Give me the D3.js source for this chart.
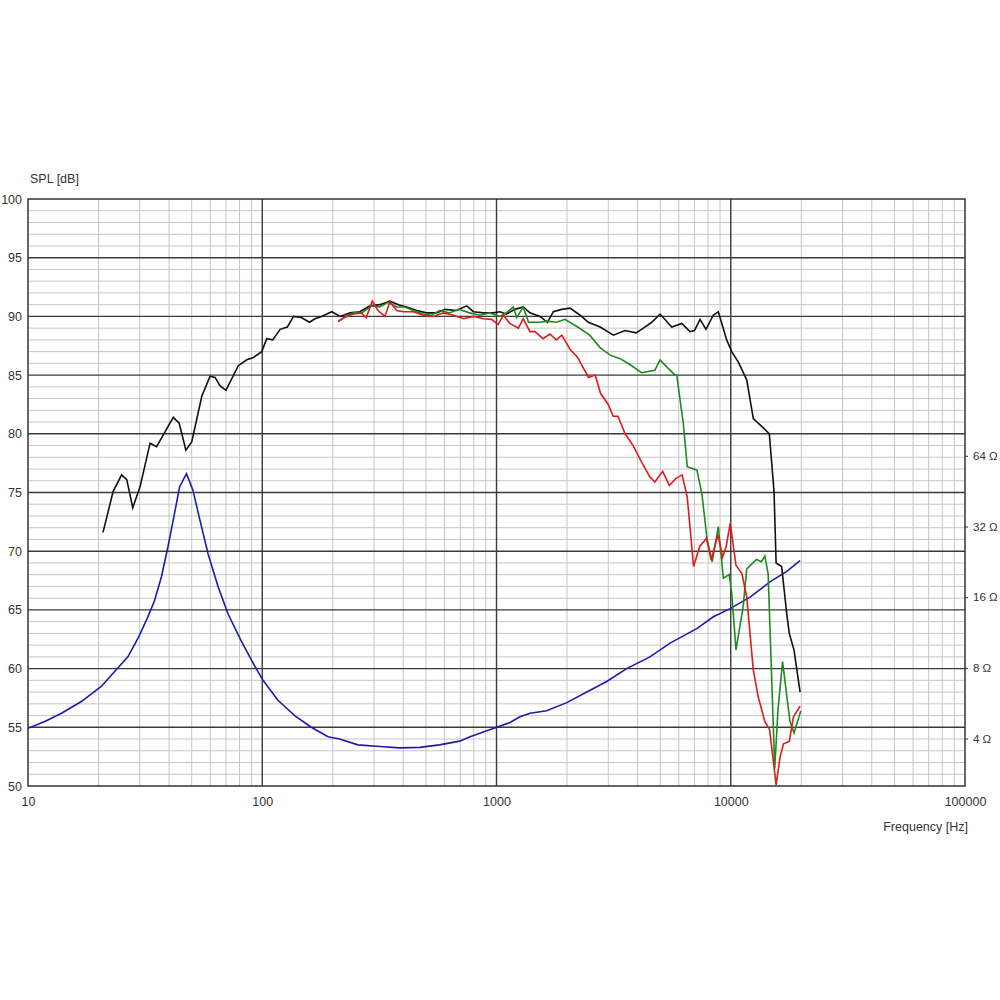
<!DOCTYPE html>
<html>
<head>
<meta charset="utf-8">
<script src="https://cdn.jsdelivr.net/npm/d3@7"></script>
<style>
  html, body { margin: 0; padding: 0; background: #fff; }
  svg text { font-family: "Liberation Sans", Arial, sans-serif; }
</style>
</head>
<body>
<svg id="chart" width="1000" height="1000"></svg>
<script>
// ---------- DATA ----------
const freqTicks = [10, 100, 1000, 10000, 100000];
const dbTicks = [50, 55, 60, 65, 70, 75, 80, 85, 90, 95, 100];
const ohmTicks = [4, 8, 16, 32, 64];

// On-axis SPL (black)
const blackFreq = [20.9,23.1,25.1,26.4,28.0,30.1,33.2,35.4,41.7,44.2,47.2,50.0,55.2,59.9,62.9,66.0,70.0,79.0,85.9,91.7,99.5,104.5,110.9,119.2,128,136,147,159,168,179,198,215,237,261,288,318,351,381,414,457,503,555,603,676,746,797,879,969,1035,1100,1199,1301,1390,1534,1650,1749,1898,2060,2275,2467,2769,3155,3539,3943,4238,4600,4992,5599,6177,6702,7000,7396,7837,8425,8850,9609,10095,10775,11700,12480,13770,14610,15300,15620,16490,17330,17780,18620,19770];
const blackDb   = [71.6,75.1,76.5,76.1,73.7,75.5,79.2,78.9,81.4,80.9,78.6,79.3,83.2,84.9,84.8,84.1,83.7,85.8,86.3,86.5,87.0,88.1,88.0,88.9,89.1,90.0,89.9,89.5,89.8,90.0,90.4,90.0,90.3,90.4,90.9,91.0,91.3,91.0,90.8,90.5,90.3,90.3,90.6,90.5,90.9,90.4,90.3,90.3,90.4,90.2,90.6,90.8,90.3,90.0,89.5,90.4,90.6,90.7,90.1,89.5,89.1,88.4,88.8,88.6,89.0,89.5,90.2,89.1,89.4,88.7,88.8,89.75,88.9,90.1,90.4,88.0,87.0,86.1,84.6,81.3,80.5,80.0,75.1,69.0,68.7,64.7,63.0,61.6,58.0];

// 30 deg (green)
const greenFreq = [211,224,245,266,293,318,344,375,406,441,487,527,571,629,690,767,850,935,1035,1100,1180,1220,1300,1370,1534,1640,1800,1960,2220,2500,2780,3060,3370,3710,4160,4440,4740,4992,5330,5780,5880,6270,6520,7170,7530,7930,8330,8850,9300,9850,10100,10530,11300,11700,12880,13520,13980,14440,15410,15910,16640,17870,18620,19900];
const greenDb   = [89.6,89.9,90.3,90.3,90.9,90.8,91.2,90.8,90.8,90.5,90.2,90.1,90.5,90.3,90.6,90.3,90.1,90.3,90.0,90.3,90.8,89.9,90.8,89.5,89.5,89.6,89.5,89.75,89.1,88.4,87.3,86.7,86.4,85.9,85.2,85.3,85.4,86.3,85.7,85.0,85.0,80.9,77.2,76.9,74.9,70.95,69.1,72.1,67.7,68.0,66.4,61.6,65.3,68.5,69.3,69.1,69.6,68.1,51.5,56.5,60.6,55.6,54.5,56.4];

// 60 deg (red)
const redFreq = [211,224,245,265,278,295,312,334,351,375,401,441,487,537,593,655,723,797,879,953,1015,1070,1140,1240,1300,1390,1460,1580,1690,1800,1900,2060,2220,2470,2640,2780,3000,3150,3300,3540,3830,4160,4510,4740,5120,5470,5840,6200,6520,6940,7370,7880,8250,8810,9240,9560,9950,10530,11160,11700,12480,13100,13980,14650,15060,15620,16250,16800,17780,18530,19770];
const redDb   = [89.55,89.9,90.2,90.3,89.9,91.3,90.5,90.0,91.25,90.5,90.4,90.4,90.1,90.0,90.3,90.1,89.8,90.0,89.8,89.75,89.3,90.1,89.4,89.0,89.8,88.7,88.7,88.1,88.5,88.0,88.4,87.2,86.5,84.8,85.0,83.45,82.5,81.5,81.5,80.0,79.0,77.6,76.35,75.9,76.8,75.6,76.2,76.5,74.6,68.7,70.4,71.1,69.25,71.4,69.5,70.4,72.4,68.8,68.1,66.1,59.9,57.6,55.5,54.8,52.8,50.1,52.5,53.6,53.8,55.9,56.8];

// Impedance (blue), in ohms
const impFreq = [10,11.8,13.9,16.9,20.6,23.8,26.7,29.5,32.5,34.7,37.1,39.6,42.2,44.4,47.5,50.6,54.1,58.7,64.7,71.4,81.4,92.9,100.8,116.7,137.5,161.9,190.8,214,256,318,386,470,571,696,771,1002,1142,1259,1390,1637,1995,2428,2954,3594,4520,5505,7160,8430,9940,12090,14710,17340,19770];
const impOhm  = [4.42,4.73,5.13,5.75,6.68,7.85,8.91,10.7,13.2,15.5,19.5,26.3,36.3,47.3,53.7,45.7,34.3,24.5,17.8,13.6,10.4,8.13,7.08,5.82,5.01,4.47,4.07,3.98,3.76,3.70,3.65,3.67,3.76,3.90,4.07,4.47,4.68,4.95,5.13,5.25,5.69,6.31,7.0,7.94,8.91,10.2,11.75,13.2,14.3,16.0,18.6,20.6,22.9];

// ---------- CHART ----------
const L = 28, R = 965, T = 199, B = 786;
const svg = d3.select("#chart");
svg.append("rect").attr("width", 1000).attr("height", 1000).attr("fill", "#fff");

const x = d3.scaleLog().domain([10, 100000]).range([L, R]);
const y = d3.scaleLinear().domain([50, 100]).range([B, T]);
// impedance axis: dB = 42 + 20*log10(ohm)
const yOhm = d3.scaleLog().domain([Math.pow(10, 8 / 20), Math.pow(10, 58 / 20)]).range([B, T]);

// grid
const minorX = [];
for (let e = 1; e <= 4; e++) for (let k = 2; k <= 9; k++) minorX.push(k * Math.pow(10, e));
const minorY = d3.range(51, 100).filter(v => v % 5 !== 0);
const majorY = d3.range(55, 100, 5);
const majorX = [100, 1000, 10000];

const g = svg.append("g");
g.selectAll(".mx").data(minorX).join("line")
  .attr("x1", d => x(d)).attr("x2", d => x(d)).attr("y1", T).attr("y2", B)
  .attr("stroke", "#c6c6c6").attr("stroke-width", 1);
g.selectAll(".my").data(minorY).join("line")
  .attr("x1", L).attr("x2", R).attr("y1", d => y(d)).attr("y2", d => y(d))
  .attr("stroke", "#c6c6c6").attr("stroke-width", 1);
g.selectAll(".My").data(majorY).join("line")
  .attr("x1", L).attr("x2", R).attr("y1", d => y(d)).attr("y2", d => y(d))
  .attr("stroke", "#3a3a3a").attr("stroke-width", 1.4);
g.selectAll(".Mx").data(majorX).join("line")
  .attr("x1", d => x(d)).attr("x2", d => x(d)).attr("y1", T).attr("y2", B)
  .attr("stroke", "#3a3a3a").attr("stroke-width", 1.4);
g.append("rect").attr("x", L).attr("y", T).attr("width", R - L).attr("height", B - T)
  .attr("fill", "none").attr("stroke", "#333").attr("stroke-width", 1.5);

// curves
const clip = svg.append("clipPath").attr("id", "clip").append("rect")
  .attr("x", L).attr("y", T).attr("width", R - L).attr("height", B - T);
const curves = svg.append("g").attr("clip-path", "url(#clip)");
const lineDb = d3.line().x(d => x(d[0])).y(d => y(d[1]));
const lineOhm = d3.line().x(d => x(d[0])).y(d => yOhm(d[1]));

curves.append("path").datum(d3.zip(impFreq, impOhm)).attr("d", lineOhm)
  .attr("fill", "none").attr("stroke", "#1c1ca8").attr("stroke-width", 1.6);
curves.append("path").datum(d3.zip(blackFreq, blackDb)).attr("d", lineDb)
  .attr("fill", "none").attr("stroke", "#111").attr("stroke-width", 1.6);
curves.append("path").datum(d3.zip(greenFreq, greenDb)).attr("d", lineDb)
  .attr("fill", "none").attr("stroke", "#1e8a1e").attr("stroke-width", 1.6);
curves.append("path").datum(d3.zip(redFreq, redDb)).attr("d", lineDb)
  .attr("fill", "none").attr("stroke", "#dd1c1c").attr("stroke-width", 1.6);

// axes (labels only)
const styleAxis = (sel, size) => {
  sel.select(".domain").remove();
  sel.selectAll("line").attr("stroke", "#333");
  sel.selectAll("text").attr("fill", "#333").style("font-size", size + "px")
     .style("font-family", "'Liberation Sans', Arial, sans-serif");
};
svg.append("g").attr("transform", `translate(${L},0)`)
  .call(d3.axisLeft(y).tickValues(dbTicks).tickSize(0).tickPadding(6))
  .call(styleAxis, 12.5);
svg.append("g").attr("transform", `translate(0,${B})`)
  .call(d3.axisBottom(x).tickValues(freqTicks).tickFormat(d3.format("d")).tickSize(0).tickPadding(11))
  .call(styleAxis, 12.5);
svg.append("g").attr("transform", `translate(${R},0)`)
  .call(d3.axisRight(yOhm).tickValues(ohmTicks).tickFormat(d => d + " Ω").tickSize(3).tickPadding(5))
  .call(styleAxis, 11.5);

svg.append("text").attr("x", 30).attr("y", 183).text("SPL [dB]")
  .attr("fill", "#333").style("font-size", "12.5px");
svg.append("text").attr("x", 968).attr("y", 831).attr("text-anchor", "end").text("Frequency [Hz]")
  .attr("fill", "#333").style("font-size", "12.5px");
</script>
</body>
</html>
